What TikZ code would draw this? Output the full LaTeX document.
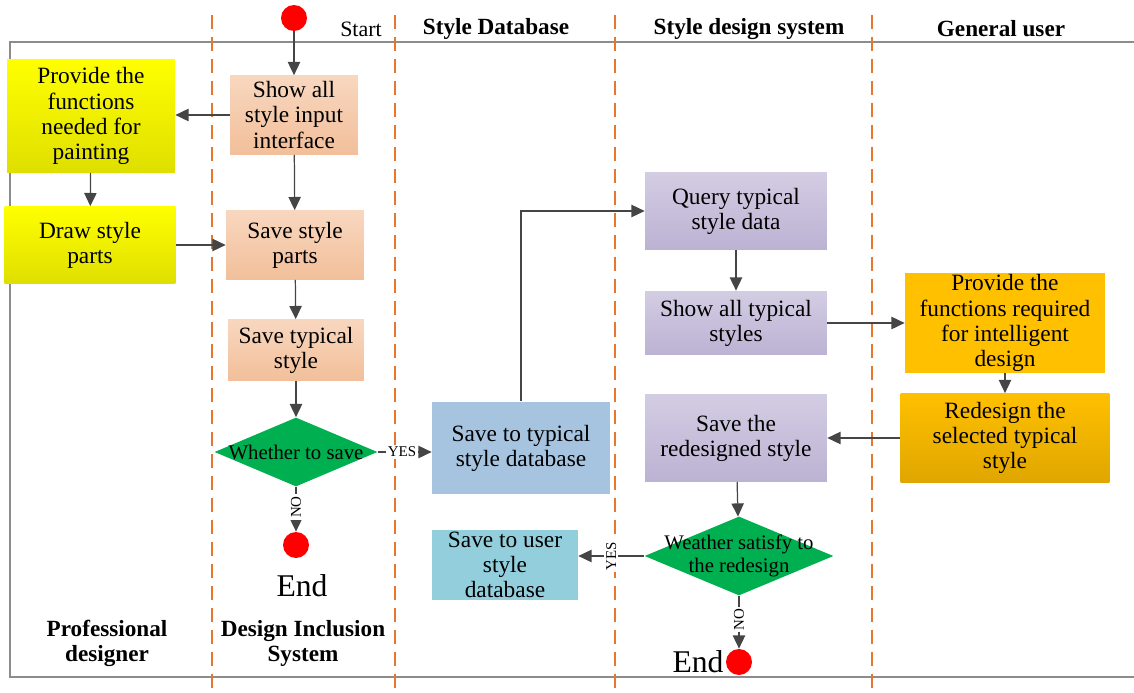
\documentclass[tikz,border=0pt]{standalone}
\usepackage{fontspec}
\setmainfont{Liberation Serif}
\usepackage{tikz}
\usetikzlibrary{shapes.geometric,arrows.meta,positioning}
\usepackage{xcolor}
\definecolor{laneorange}{HTML}{E8772E}
\definecolor{framegray}{HTML}{8C8C8C}
\definecolor{arrgray}{HTML}{454545}
\definecolor{peachtop}{HTML}{F8D7BF}
\definecolor{peachbot}{HTML}{F2BF9A}
\definecolor{yeltop}{HTML}{FFFF00}
\definecolor{yelbot}{HTML}{DFDF00}
\definecolor{lavtop}{HTML}{D3CDE3}
\definecolor{lavbot}{HTML}{BCB2D3}
\definecolor{dbblue}{HTML}{A6C4E0}
\definecolor{usercyan}{HTML}{93CEDD}
\definecolor{amber}{HTML}{FFC000}
\definecolor{amberbot}{HTML}{E0A600}
\definecolor{decgreen}{HTML}{00B050}
\tikzstyle{box}=[rectangle, inner sep=1pt, align=center, font=\fontsize{13.3}{14.3}\selectfont]
\tikzstyle{peachbox}=[box, top color=peachtop, bottom color=peachbot]
\tikzstyle{yelbox}=[box, top color=yeltop, bottom color=yelbot]
\tikzstyle{lavbox}=[box, top color=lavtop, bottom color=lavbot]
\tikzstyle{decision}=[diamond, fill=decgreen, inner sep=0pt]
\tikzstyle{dectext}=[align=center, inner sep=0pt, font=\fontsize{11.8}{13.2}\selectfont]
\tikzstyle{endpt}=[circle, fill=red, inner sep=0pt, minimum size=0.52cm]
\tikzstyle{arr}=[draw=arrgray, line width=0.7pt, -{Triangle[length=7.5pt,width=7pt]}]
\tikzstyle{lane}=[draw=laneorange, line width=1.3pt, dash pattern=on 8pt off 4.5pt]
\tikzstyle{lanehead}=[font=\fontsize{13.2}{14.2}\selectfont\bfseries, align=center]
\tikzstyle{tag}=[font=\fontsize{8.5}{9}\selectfont, inner sep=1pt, fill=white]

\begin{document}
\begin{tikzpicture}[x=0.02cm, y=-0.02cm]
\useasboundingbox (0,0) rectangle (1134,693);
% frame and lanes
\draw[framegray, line width=0.8pt] (1134,42) -- (10,42) -- (10,677) -- (1134,677);
\foreach \x in {212,395,615,872} {
	\draw[lane] (\x,15) -- (\x,693);
}
\node[lanehead] (hdb) at (496,29) {Style Database};
\node[lanehead] (hsys) at (749,29) {Style design system};
\node[lanehead] (huser) at (1001,29) {General user};
\node[lanehead] (hpro) at (107,643) {Professional\\designer};
\node[lanehead] (hinc) at (303,643) {Design Inclusion\\System};

% professional designer / design inclusion system
\node[endpt] (start) at (294,18) {};
\node[font=\fontsize{12.5}{14}\selectfont] (starttxt) at (361,29) {Start};
\node[peachbox, minimum width=2.56cm, minimum height=1.58cm] (showall) at (294,115) {Show all\\style input\\interface};
\node[yelbox, minimum width=3.36cm, minimum height=2.26cm] (provpaint) at (91,116) {Provide the\\functions\\needed for\\painting};
\node[yelbox, minimum width=3.42cm, minimum height=1.54cm] (drawparts) at (90,245) {Draw style\\parts};
\node[peachbox, minimum width=2.76cm, minimum height=1.38cm] (saveparts) at (295,245) {Save style\\parts};
\node[peachbox, minimum width=2.72cm, minimum height=1.22cm] (savetyp) at (296,350) {Save typical\\style};
\node[decision, minimum width=3.26cm, minimum height=1.38cm,
	label={[dectext]center:Whether to save}] (dsave) at (296,452) {};
\node[endpt] (end1) at (296,545) {};
\node[font=\fontsize{18}{20}\selectfont] (endtxt1) at (302,586) {End};

% style database
\node[box, fill=dbblue, minimum width=3.56cm, minimum height=1.86cm] (savedb) at (521,448) {Save to typical\\style database};
\node[box, fill=usercyan, minimum width=2.92cm, minimum height=1.28cm] (saveuser) at (505,565) {Save to user\\style\\database};

% style design system
\node[lavbox, minimum width=3.64cm, minimum height=1.54cm] (query) at (736,211) {Query typical\\style data};
\node[lavbox, minimum width=3.64cm, minimum height=1.28cm] (showtyp) at (736,323) {Show all typical\\styles};
\node[lavbox, minimum width=3.64cm, minimum height=1.74cm] (saveredes) at (736,438) {Save the\\redesigned style};
\node[decision, minimum width=3.78cm, minimum height=1.58cm,
	label={[dectext]center:Weather satisfy to\\the redesign}] (dsat) at (739,556) {};
\node[endpt] (end2) at (739,662) {};
\node[font=\fontsize{18}{20}\selectfont, left=1pt of end2, inner sep=0pt] (endtxt2) {End};

% general user
\node[box, fill=amber, minimum width=4.0cm, minimum height=1.78cm] (provint) at (1005,323) {Provide the\\functions required\\for intelligent\\design};
\node[box, top color=amber, bottom color=amberbot, minimum width=4.18cm, minimum height=1.78cm] (redesign) at (1005,438) {Redesign the\\selected typical\\style};

% connectors
\draw[arr] (start) -- (showall);
\draw[arr] (showall) -- (provpaint.east |- showall);
\draw[arr] (provpaint) -- (drawparts);
\draw[arr] (drawparts) -- (saveparts);
\draw[arr] (showall) -- (saveparts);
\draw[arr] (saveparts) -- (savetyp);
\draw[arr] (savetyp) -- (dsave);
\draw[arr] (dsave.east) -- node[tag, pos=0.45] {YES} (savedb.west |- dsave);
\draw[arr] (dsave.south) -- node[tag, rotate=90, pos=0.45] {NO} (end1);
\draw[arr] (savedb.north) |- (query.west);
\draw[arr] (query) -- (showtyp);
\draw[arr] (showtyp) -- (provint);
\draw[arr] (provint) -- (redesign);
\draw[arr] (redesign) -- (saveredes);
\draw[arr] (saveredes) -- (dsat);
\draw[arr] (dsat.west) -- node[tag, rotate=90, pos=0.5] {YES} (saveuser.east |- dsat);
\draw[arr] (dsat.south) -- node[tag, rotate=90, pos=0.45] {NO} (end2);
\end{tikzpicture}
\end{document}
